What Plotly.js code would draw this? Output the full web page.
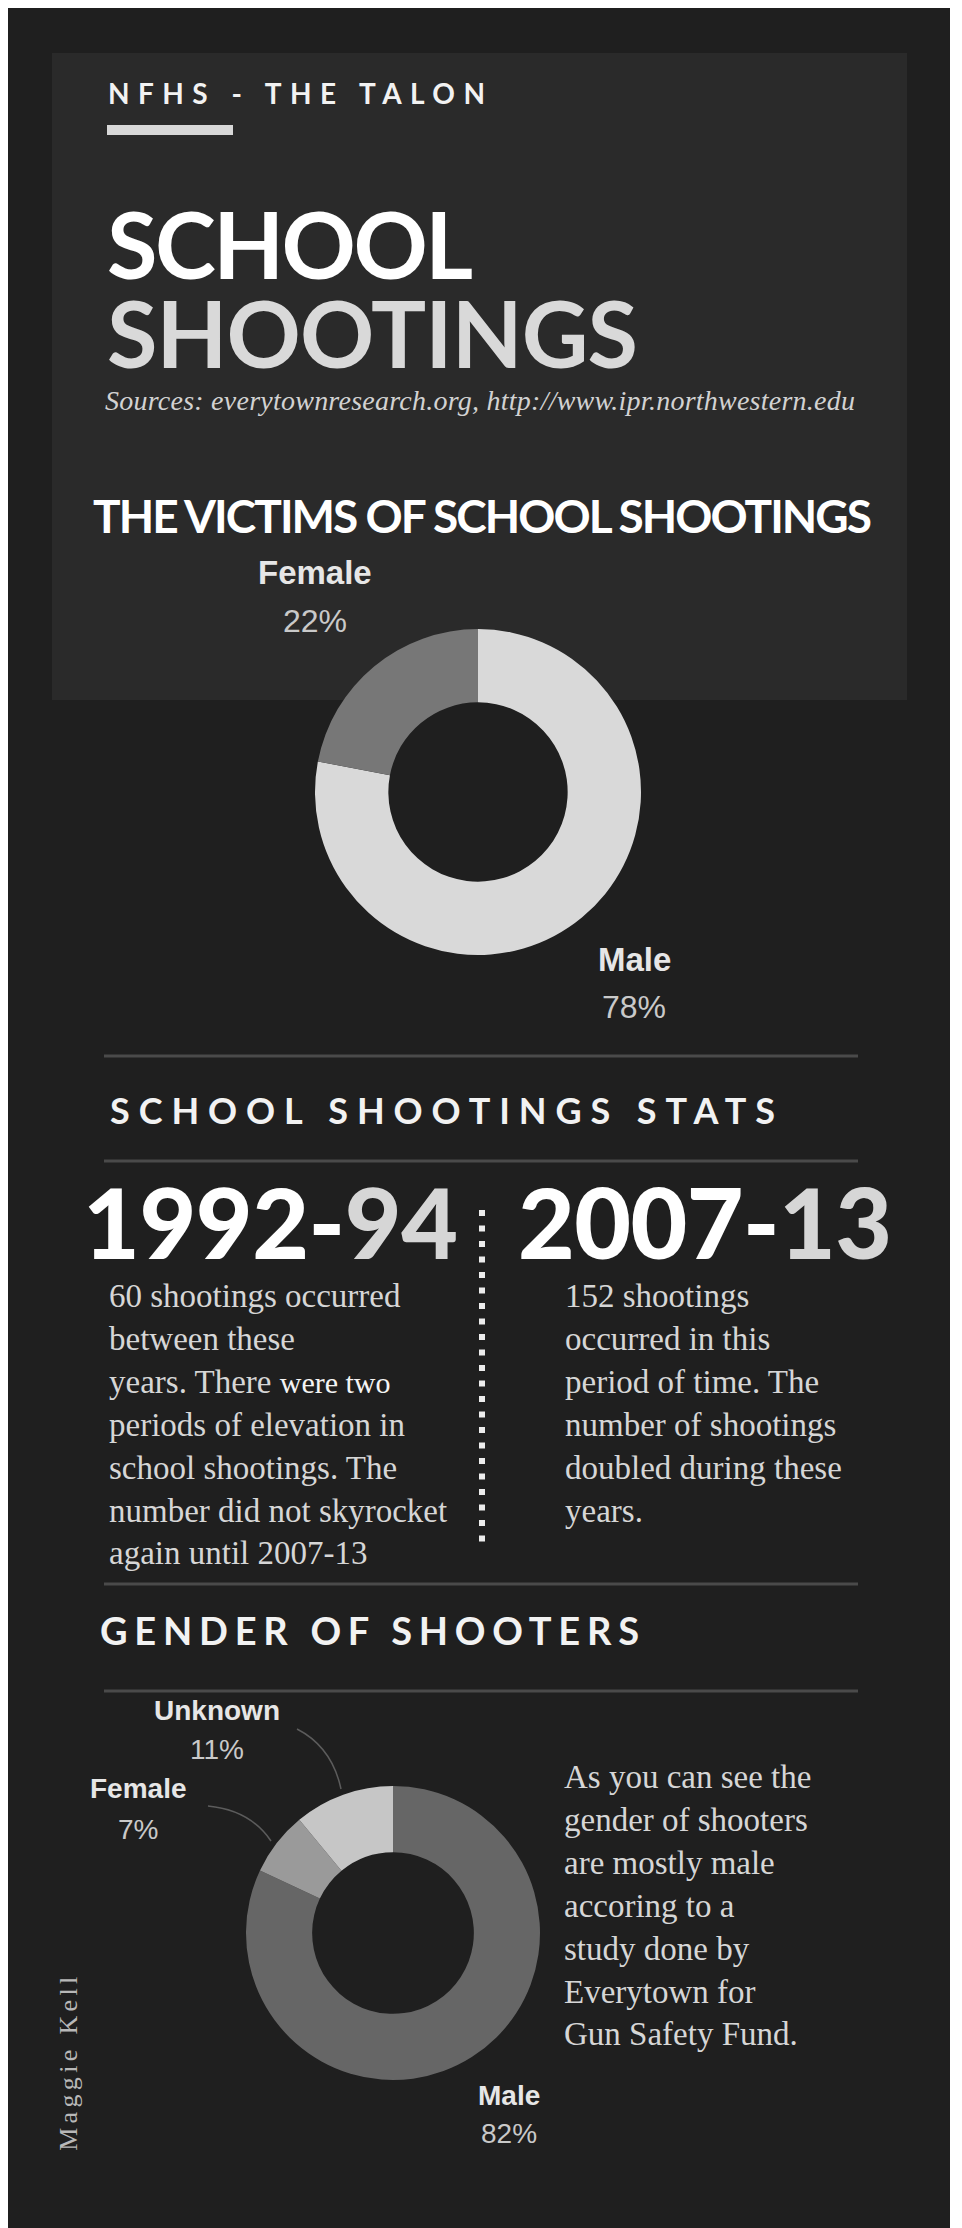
<!DOCTYPE html>
<html>
<head>
<meta charset="utf-8">
<script src="https://cdn.plot.ly/plotly-3.0.1.min.js"></script>
<style>
  html, body { margin: 0; padding: 0; background: #ffffff; }
  #chart { width: 962px; height: 2228px; }
</style>
</head>
<body>
<div id="chart"></div>
<script>
// ---------------- DATA ----------------
const victimLabels = ['Male', 'Female'];
const victimValues = [78, 22];

const shooterLabels = ['Male', 'Female', 'Unknown'];
const shooterValues = [82, 7, 11];

const statPeriods = ['1992-94', '2007-13'];
const statTextLeft = [
  '60 shootings occurred',
  'between these',
  'years. There <span style="font-size:30px;color:#f4f4f4">were two</span>',
  'periods of elevation in',
  'school shootings. The',
  'number did not skyrocket',
  'again until 2007-13'
];
const statTextRight = [
  '152 shootings',
  'occurred in this',
  'period of time. The',
  'number of shootings',
  'doubled during these',
  'years.'
];
const genderNote = [
  'As you can see the',
  'gender of shooters',
  'are mostly male',
  'accoring to a',
  'study done by',
  'Everytown for',
  'Gun Safety Fund.'
];

// ---------------- STYLE / LAYOUT ----------------
const W = 962, H = 2228;
const X = p => p / W;
const Y = p => 1 - p / H;

const victimColors = ['#d9d9d9', '#777777'];
const shooterColors = ['#666666', '#9a9a9a', '#c6c6c6'];
// label positions: [x center, name y, percent y] in page pixels
const victimLabelPos = [[634, 959, 1007], [315, 573, 621]];
const shooterLabelPos = [[509, 2095, 2133], [138, 1788, 1829], [217, 1710, 1749]];

const SANS = 'Lato, "Open Sans", sans-serif';
const ARIAL = '"Liberation Sans", Arial, sans-serif';
const SERIF = '"Liberation Serif", "Times New Roman", serif';

const annotations = [];
const fits = [];
function T(text, px, py, o, fitW, lineDy) {
  const a = Object.assign({
    xref: 'paper', yref: 'paper', x: X(px), y: Y(py), text: text,
    showarrow: false, xanchor: 'left', yanchor: 'middle', align: 'left', borderpad: 0
  }, o);
  annotations.push(a);
  if (fitW) fits.push({ i: annotations.length - 1, w: fitW, dy: lineDy });
  return a;
}

// header
T('NFHS - THE TALON', 107, 93, { font: { family: SANS, size: 28, weight: 700, color: '#f2f2f2' } }, 377);
T('SCHOOL<br><span style="color:#d9d9d9">SHOOTINGS</span>', 106, 187,
  { yanchor: 'top', font: { family: SANS, size: 92, weight: 700, color: '#ffffff' } }, [366, 531], 89);
T('Sources: everytownresearch.org, http://www.ipr.northwestern.edu', 104, 401,
  { font: { family: SERIF, size: 28, style: 'italic', color: '#d2d2d2' } }, 750);
T('THE VICTIMS OF SCHOOL SHOOTINGS', 92, 515.5, { font: { family: SANS, size: 46, weight: 700, color: '#ffffff' } }, 779);

// victims labels
const vTotal = victimValues.reduce((a, b) => a + b, 0);
victimLabels.forEach((lab, k) => {
  const p = victimLabelPos[k];
  T('<b>' + lab + '</b>', p[0], p[1], { xanchor: 'center', align: 'center', font: { family: ARIAL, size: 33, color: '#e6e6e6' } });
  T(Math.round(victimValues[k] / vTotal * 100) + '%', p[0], p[2], { xanchor: 'center', align: 'center', font: { family: ARIAL, size: 32, color: '#c9c9c9' } });
});

// stats
T('SCHOOL SHOOTINGS STATS', 109, 1110, { font: { family: SANS, size: 36, weight: 700, color: '#f2f2f2' } }, 665);
const statX = [82, 517];
const statW = [375, 374];
statPeriods.forEach((s, k) => {
  const cut = s.lastIndexOf('-') + 1;
  T(s.slice(0, cut) + '<span style="color:#d6d6d6">' + s.slice(cut) + '</span>', statX[k], 1221,
    { font: { family: SANS, size: 98, weight: 900, color: '#ffffff' } }, statW[k]);
});
T(statTextLeft.join('<br>'), 108, 1277.5, { yanchor: 'top', font: { family: SERIF, size: 33, color: '#d6d6d6' } });
T(statTextRight.join('<br>'), 564, 1277.5, { yanchor: 'top', font: { family: SERIF, size: 33, color: '#d6d6d6' } });

// gender of shooters
T('GENDER OF SHOOTERS', 99, 1630, { font: { family: SANS, size: 38, weight: 700, color: '#f2f2f2' } }, 539);
const sTotal = shooterValues.reduce((a, b) => a + b, 0);
shooterLabels.forEach((lab, k) => {
  const p = shooterLabelPos[k];
  T('<b>' + lab + '</b>', p[0], p[1], { xanchor: 'center', align: 'center', font: { family: ARIAL, size: 28, color: '#e6e6e6' } });
  T(Math.round(shooterValues[k] / sTotal * 100) + '%', p[0], p[2], { xanchor: 'center', align: 'center', font: { family: ARIAL, size: 28, color: '#c9c9c9' } });
});
T(genderNote.join('<br>'), 563, 1757.5, { yanchor: 'top', font: { family: SERIF, size: 33, color: '#d6d6d6' } });

// author
T('Maggie Kell', 68, 2062, { xanchor: 'center', align: 'center', textangle: -90,
  font: { family: SERIF, size: 26, color: '#b8b8b8' } }, 174);

// ---------------- SHAPES ----------------
const hline = py => ({ type: 'line', xref: 'paper', yref: 'paper', x0: X(104), x1: X(858), y0: Y(py), y1: Y(py),
  line: { color: '#4a4a4a', width: 3 }, layer: 'below' });
const shapes = [
  { type: 'rect', xref: 'paper', yref: 'paper', x0: X(8), x1: X(950), y0: Y(8), y1: 0,
    fillcolor: '#1f1f1f', line: { width: 0 }, layer: 'below' },
  { type: 'rect', xref: 'paper', yref: 'paper', x0: X(52), x1: X(907), y0: Y(53), y1: Y(700),
    fillcolor: '#2a2a2a', line: { width: 0 }, layer: 'below' },
  { type: 'rect', xref: 'paper', yref: 'paper', x0: X(107), x1: X(233), y0: Y(125), y1: Y(135),
    fillcolor: '#d8d8d8', line: { width: 0 }, layer: 'below' },
  hline(1056), hline(1161), hline(1584), hline(1691),
  { type: 'line', xref: 'paper', yref: 'paper', x0: X(482), x1: X(482), y0: Y(1210), y1: Y(1548),
    line: { color: '#ececec', width: 6, dash: '6px,9.5px' }, layer: 'below' },
  { type: 'path', xref: 'paper', yref: 'paper',
    path: 'M ' + X(297) + ',' + Y(1729) + ' Q ' + X(332) + ',' + Y(1747) + ' ' + X(341) + ',' + Y(1789),
    line: { color: '#5c5c5c', width: 1.5 }, layer: 'below' },
  { type: 'path', xref: 'paper', yref: 'paper',
    path: 'M ' + X(208) + ',' + Y(1806) + ' Q ' + X(250) + ',' + Y(1810) + ' ' + X(271) + ',' + Y(1841),
    line: { color: '#5c5c5c', width: 1.5 }, layer: 'below' }
];

// ---------------- TRACES ----------------
const traces = [
  {
    type: 'pie', labels: victimLabels, values: victimValues, sort: false,
    direction: 'clockwise', rotation: 0, hole: 0.55, textinfo: 'none',
    marker: { colors: victimColors, line: { width: 0 } },
    domain: { x: [X(315), X(641)], y: [Y(955), Y(629)] }, showlegend: false
  },
  {
    type: 'pie', labels: shooterLabels, values: shooterValues, sort: false,
    direction: 'clockwise', rotation: 0, hole: 0.55, textinfo: 'none',
    marker: { colors: shooterColors, line: { width: 0 } },
    domain: { x: [X(246), X(540)], y: [Y(2080), Y(1786)] }, showlegend: false
  }
];

const layout = {
  width: W, height: H, margin: { l: 0, r: 0, t: 0, b: 0 },
  paper_bgcolor: '#ffffff', plot_bgcolor: '#ffffff',
  showlegend: false, annotations: annotations, shapes: shapes
};

const gd = document.getElementById('chart');
function spread(el, w) {
  el.style.letterSpacing = '0px';
  const natural = el.getComputedTextLength();
  const n = el.textContent.length;
  if (n < 2) return;
  el.style.letterSpacing = ((w - natural) / (n - 1)) + 'px';
}
function fitText() {
  fits.forEach(f => {
    const g = gd.querySelector('.annotation[data-index="' + f.i + '"]');
    const t = g && g.querySelector('text.annotation-text');
    if (!t) return;
    if (Array.isArray(f.w)) {
      const lines = t.querySelectorAll('tspan.line');
      lines.forEach((ln, k) => {
        if (f.w[k]) spread(ln, f.w[k]);
        if (k > 0 && f.dy) ln.setAttribute('dy', f.dy);
      });
    } else {
      spread(t, f.w);
    }
  });
}
Plotly.newPlot(gd, traces, layout, { staticPlot: true, displayModeBar: false }).then(() => {
  fitText();
  gd.on('plotly_afterplot', fitText);
});
</script>
</body>
</html>
